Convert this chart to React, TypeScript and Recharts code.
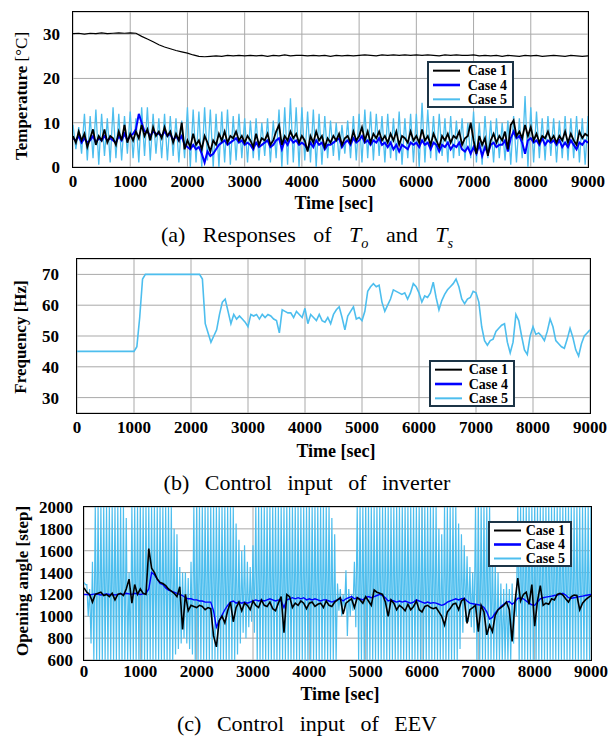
import { CartesianGrid, Line, LineChart, XAxis, YAxis } from "recharts";
import type { ReactNode } from "react";

// ---- axis ticks ----
const timeTicks = [0, 1000, 2000, 3000, 4000, 5000, 6000, 7000, 8000, 9000];
const tempTicks = [0, 10, 20, 30];
const freqTicks = [30, 40, 50, 60, 70];
const eevTicks = [600, 800, 1000, 1200, 1400, 1600, 1800, 2000];

const legendCases = [
  { name: "Case 1", color: "#000000", width: 2 },
  { name: "Case 4", color: "#0000ff", width: 2.6 },
  { name: "Case 5", color: "#4dbeee", width: 2 },
];

// ---- (a) temperatures ----
// outdoor temperature To, every 100 s
const toCase1 = [
  30.1, 30.2, 30.0, 30.2, 30.1, 30.3, 30.1, 30.2, 30.3, 30.2,
  30.3, 30.2, 29.5, 28.9, 28.3, 27.6, 27.1, 26.7, 26.3, 26.0,
  25.7, 25.3, 25.0, 24.9, 25.0, 25.1, 25.0, 25.2, 25.1, 25.2,
  25.1, 25.2, 25.1, 25.2, 25.0, 25.2, 25.1, 25.3, 25.1, 25.2,
  25.2, 25.1, 25.2, 25.1, 25.2, 25.0, 25.2, 25.1, 25.2, 25.1,
  25.2, 25.3, 25.2, 25.1, 25.3, 25.2, 25.3, 25.2, 25.3, 25.2,
  25.3, 25.2, 25.3, 25.2, 25.1, 25.3, 25.2, 25.3, 25.2, 25.2,
  25.3, 25.1, 25.2, 25.1, 25.2, 25.0, 25.2, 25.1, 25.0, 25.2,
  25.1, 25.2, 25.0, 25.1, 25.2, 25.1, 25.0, 25.2, 25.1, 25.0,
  25.1,
];

// supply temperature Ts, every 50 s
const tsCase1 = [
  7, 5.5, 8, 6, 7.5, 4.5, 6.5, 8.5, 5, 7,
  6, 8.5, 5.5, 7, 6.5, 5, 8, 6, 9.5, 5.5,
  7.5, 6, 8, 6.5, 9.5, 7, 8.5, 6, 9, 7,
  8, 6.5, 9, 7, 8, 5.5, 7.5, 6, 10, 4,
  6, 4.5, 7.5, 5, 6, 4, 7, 5.5, 3.5, 6,
  5, 7.5, 6, 8, 5.5, 7, 6.5, 8, 6, 7,
  5.5, 7, 6, 4.5, 7.5, 5, 6.5, 6, 7.5, 5,
  6, 8, 9.5, 5, 7, 6, 8, 6.5, 7.5, 5.5,
  7, 6, 3.5, 7, 5.5, 8, 6, 7, 4.5, 6.5,
  5.5, 7, 6, 7.5, 5, 6.5, 7, 5.5, 8, 6,
  7, 9, 6, 8, 5.5, 7.5, 6.5, 8, 6, 7,
  5.5, 7.5, 6, 8, 5, 7, 6.5, 5.5, 8, 6,
  7, 5.5, 8.5, 6, 7, 5, 7.5, 6, 4.5, 7,
  6, 7.5, 5.5, 7, 6.5, 8, 5, 6.5, 7, 10,
  6, 3, 7, 5, 6.5, 2.5, 6, 7.5, 5.5, 7,
  6, 8, 4, 9.5, 10.5, 7, 8, 6.5, 9.5, 7,
  9, 6, 7.5, 5.5, 7, 6.5, 8, 6, 7, 5.5,
  7, 6, 8, 5.5, 7.5, 6, 5, 8, 6.5, 7.5,
  7,
];

const tsCase4 = [
  6.5, 6, 7, 5.5, 6.5, 5.5, 6, 7, 5.5, 6.5,
  6, 7, 6, 6.5, 6, 5.5, 7, 6, 7.5, 6,
  7, 7.5, 8.5, 12, 10, 8, 8, 7, 8, 7.5,
  7.5, 7, 8, 7, 7.5, 6, 7, 6, 7, 5,
  4.5, 4, 5, 4, 4.5, 3, 1, 3.5, 2.5, 3,
  4, 5, 5.5, 6, 5, 5.5, 6, 6.5, 5.5, 6,
  5, 5.5, 5, 4, 5.5, 4.5, 5, 5.5, 6, 4.5,
  5, 6, 6.5, 4, 6, 5, 6.5, 5.5, 6, 5,
  5.5, 5, 4, 5.5, 4.5, 6, 5, 5.5, 4, 5,
  5, 5.5, 6, 6.5, 4.5, 5.5, 6, 5, 6.5, 5.5,
  6, 7, 5.5, 6, 5, 6, 5.5, 6.5, 5, 5.5,
  4.5, 5.5, 4, 5, 3.5, 5, 4.5, 4, 5.5, 5,
  5.5, 4.5, 6, 5, 5.5, 4, 5.5, 5, 3.5, 5,
  4.5, 5.5, 4, 5, 4.5, 5.5, 4, 3.5, 4.5, 3,
  4.5, 3, 5, 2.5, 4.5, 3, 5, 5.5, 4.5, 5,
  5, 6, 3.5, 6.5, 8, 6.5, 7, 5.5, 3, 6,
  6.5, 5.5, 6, 5, 6.5, 5, 6, 5.5, 6, 5,
  6, 4.5, 5.5, 4.5, 6, 5, 4, 5.5, 5, 6,
  5.5,
];

// Case 5 swings: peaks every 100 s, troughs 50 s later
const tsCase5Peaks = [
  9.5, 9, 12, 11.5, 13, 12, 11, 13.5, 12, 11.5,
  12.5, 11, 13.5, 13.5, 12, 11, 12, 11.5, 11, 10.5,
  13.5, 13, 12.5, 13.5, 13, 12, 12.5, 13, 11.5, 12,
  11, 10.5, 11, 10, 11, 10.5, 13, 13.5, 15.5, 13.5,
  13.5, 12.5, 13, 12, 11.5, 10.5, 10, 9.5, 10.5, 11.5,
  12, 13, 12.5, 12, 11.5, 12, 11, 12.5, 11, 12,
  12, 14.5, 13, 11.5, 12, 11, 11.5, 10.5, 11, 10,
  12.5, 10, 11.5, 10.5, 11, 10, 10.5, 11.5, 11, 16,
  13.5, 12.5, 11, 11.5, 11, 10.5, 11.5, 11, 11.5, 11,
  11.5,
];
const tsCase5Troughs = [
  4, 3, 1.5, 2, 0.5, 2.5, 1, 2, 1.5, 3,
  2, 1, 2.5, 1.5, 3, 2, 1.5, 2.5, 1, 2,
  0, 1, 0, 1.5, 0, 0, 1, 0.5, 1.5, 2,
  1, 2, 1.5, 2.5, 1, 2, 0, 0.5, 1, 0,
  1.5, 1, 0, 0.5, 2, 2.5, 1.5, 3, 2, 1.5,
  1, 2, 1.5, 2.5, 1, 2, 1.5, 0.5, 2, 1,
  0, 1, 2, 1.5, 2.5, 1, 2, 2.5, 1.5, 2,
  1, 0.5, 2, 1, 2, 1.5, 0.5, 1, 2, 0,
  1, 2, 1.5, 2.5, 1, 2, 1.5, 2, 1, 0.5,
];

// ---- (b) inverter frequency, every 50 s ----
const freqCase5 = [
  45, 45, 45, 45, 45, 45, 45, 45, 45, 45,
  45, 45, 45, 45, 45, 45, 45, 45, 45, 45,
  45, 46.5, 56, 68.5, 70, 70, 70, 70, 70, 70,
  70, 70, 70, 70, 70, 70, 70, 70, 70, 70,
  70, 70, 70, 70, 68.5, 54, 51, 48, 50, 52,
  57, 61, 62, 58, 54, 57, 55.5, 56.5, 55.5, 54.5,
  53, 57, 56.5, 57, 55.5, 57, 56, 57, 56.5, 55.5,
  55, 51, 58.5, 58, 57.5, 57.5, 56, 58, 57, 56,
  59, 54, 57, 56, 55, 57, 55, 54.5, 56, 54,
  57, 58.5, 59.5, 56, 52, 56.5, 58, 59.5, 55.5, 56,
  55, 58, 64.5, 66, 67, 66, 66.5, 61, 58, 60,
  62, 65, 64.5, 64, 63.5, 64, 62, 64, 67, 66,
  64, 61, 63, 62.5, 64, 67.5, 62.5, 58.5, 61.5, 63.5,
  65, 66, 67, 68.5, 66, 62, 60.5, 62, 62.5, 64.5,
  64, 61, 53, 48.5, 47, 48.5, 49, 51.5, 52.5, 53.5,
  54, 48, 44.5, 48, 57, 55, 50, 45.5, 44, 50,
  53, 50.5, 51, 50, 48.5, 51.5, 55.5, 53, 48.5, 47.5,
  46.5, 46, 49, 52.5, 49.5, 45.5, 43.5, 47.5, 50, 51,
  52,
];

// ---- (c) EEV opening, every 50 s ----
const eevCase1 = [
  1260, 1220, 1200, 1130, 1200, 1210, 1220, 1190, 1200, 1180,
  1210, 1150, 1200, 1210, 1190, 1250, 1340, 1120, 1290, 1200,
  1250, 1210, 1200, 1620, 1440, 1400, 1340, 1310, 1300, 1280,
  1250, 1230, 1210, 1180, 1270, 880, 1200, 1050, 1100, 1090,
  1080, 1100, 1090, 1060, 1080, 1070, 820, 720, 960, 1000,
  940, 1050, 1130, 950, 1080, 1130, 1050, 1120, 1100, 1060,
  1140, 1100, 1080, 1150, 1100, 1090, 1130, 1070, 1050, 1120,
  1180, 850, 1200, 1180, 1080, 1120, 1100, 1140, 1120, 1070,
  1120, 1130, 1090, 1110, 1120, 1080, 1140, 1100, 1090, 1130,
  1150, 1170, 1020, 1120, 1140, 1160, 1080, 1170, 1150, 1120,
  1180, 1140, 1100, 1240, 1220, 1210, 1200, 1130, 1000, 1150,
  1120, 1060, 1100, 1080, 1050, 1110, 1060, 1090, 1140, 1060,
  1040, 1090, 1100, 1080, 1070, 1080, 1040, 1000, 920, 1040,
  1070, 1110, 1120, 1060, 1140, 1160, 935, 1060, 1080, 1100,
  860, 1100, 1040, 830, 920, 860, 1010, 1060, 1080, 1100,
  1130, 1060, 770, 1130, 1350, 1140, 1200, 1220, 1110, 1290,
  910, 1140, 1280, 1100, 1120, 1110, 1160, 1150, 1200, 1210,
  1195, 1160, 1130, 1180, 1195, 1190, 1060, 1120, 1150, 1170,
  1190,
];

const eevCase4 = [
  1200, 1200, 1195, 1200, 1205, 1200, 1195, 1200, 1205, 1200,
  1200, 1195, 1200, 1205, 1200, 1210, 1205, 1200, 1210, 1205,
  1200, 1205, 1210, 1250, 1400, 1380, 1340, 1300, 1290, 1260,
  1240, 1230, 1220, 1210, 1200, 1190, 1170, 1160, 1160, 1150,
  1150, 1140, 1140, 1130, 1130, 1130, 1050, 900, 960, 1010,
  1060, 1100, 1130, 1140, 1120, 1130, 1120, 1130, 1120, 1130,
  1140, 1150, 1140, 1150, 1140, 1150, 1160, 1150, 1140, 1150,
  1140, 1080, 1150, 1160, 1170, 1160, 1170, 1160, 1170, 1150,
  1160, 1150, 1160, 1150, 1140, 1150, 1150, 1140, 1130, 1140,
  1150, 1160, 1140, 1160, 1170, 1180, 1160, 1170, 1160, 1150,
  1170, 1180, 1170, 1180, 1190, 1200, 1190, 1170, 1140, 1150,
  1140, 1130, 1140, 1130, 1140, 1130, 1120, 1130, 1150, 1140,
  1130, 1120, 1130, 1120, 1125, 1120, 1110, 1100, 1110, 1130,
  1140, 1150, 1160, 1150, 1160, 1165, 1140, 1120, 1115, 1110,
  1105, 1100, 1080, 1040, 975, 990, 1030, 1060, 1090, 1110,
  1130, 1135, 1110, 1130, 1165, 1165, 1160, 1140, 1120, 1105,
  1100, 1130, 1160, 1170, 1175, 1180, 1185, 1190, 1195, 1200,
  1210, 1195, 1170, 1165, 1170, 1175, 1180, 1185, 1190, 1195,
  1200,
];

// Case 5 chatters: peak every 50 s, trough 25 s later
const eevCase5Peaks = [
  1310, 1290, 1250, 1500, 2000, 2000, 2000, 2000, 2000, 2000,
  2000, 2000, 2000, 2000, 2000, 1900, 1400, 2000, 2000, 2000,
  2000, 2000, 2000, 2000, 2000, 2000, 2000, 2000, 2000, 2000,
  2000, 2000, 1800, 1750, 1450, 1400, 1400, 1350, 1500, 2000,
  2000, 2000, 2000, 2000, 2000, 2000, 2000, 2000, 2000, 2000,
  2000, 2000, 2000, 2000, 1850, 1700, 1600, 1650, 1500, 1450,
  1650, 2000, 2000, 2000, 2000, 2000, 2000, 2000, 2000, 2000,
  2000, 2000, 2000, 2000, 2000, 2000, 2000, 2000, 2000, 2000,
  2000, 2000, 2000, 2000, 2000, 2000, 2000, 2000, 1900, 1750,
  1300, 1250, 1200, 1420, 1250, 1200, 1500, 2000, 2000, 2000,
  2000, 2000, 2000, 2000, 2000, 2000, 2000, 2000, 2000, 2000,
  2000, 2000, 2000, 2000, 2000, 2000, 2000, 2000, 2000, 2000,
  2000, 2000, 2000, 2000, 2000, 2000, 1800, 1750, 2000, 2000,
  2000, 2000, 2000, 1850, 1750, 1650, 1550, 1450, 1400, 2000,
  2000, 2000, 2000, 2000, 2000, 1650, 1500, 1400, 1300, 1250,
  1300, 1250, 1300, 1150, 2000, 2000, 2000, 2000, 2000, 2000,
  2000, 2000, 2000, 2000, 2000, 2000, 2000, 2000, 2000, 2000,
  2000, 2000, 2000, 2000, 2000, 2000, 2000, 2000, 2000, 2000,
  2000,
];
const eevCase5Troughs = [
  1290, 1000, 750, 600, 600, 600, 600, 600, 600, 600,
  600, 600, 600, 600, 600, 600, 600, 600, 600, 600,
  600, 600, 600, 600, 600, 600, 600, 600, 600, 600,
  600, 600, 650, 700, 750, 800, 750, 700, 650, 600,
  600, 600, 600, 600, 600, 600, 600, 600, 600, 600,
  600, 600, 600, 600, 650, 750, 850, 800, 900, 950,
  850, 600, 600, 600, 600, 600, 600, 600, 600, 600,
  600, 600, 600, 600, 600, 600, 600, 600, 600, 600,
  600, 600, 600, 600, 600, 600, 600, 600, 600, 600,
  1050, 1000, 1050, 820, 1000, 1050, 900, 600, 600, 600,
  600, 600, 600, 600, 600, 600, 600, 600, 600, 600,
  600, 600, 600, 600, 600, 600, 600, 600, 600, 600,
  600, 600, 600, 600, 600, 600, 600, 600, 600, 600,
  600, 600, 600, 700, 850, 950, 950, 900, 850, 600,
  600, 600, 600, 600, 600, 600, 600, 600, 600, 600,
  600, 600, 750, 1000, 600, 600, 600, 600, 600, 600,
  600, 600, 600, 600, 600, 600, 600, 600, 600, 600,
  600, 600, 600, 600, 600, 600, 600, 600, 600, 600,
];

const series = (values: number[], step: number) => values.map((v, i) => ({ t: i * step, v }));
const swing = (peaks: number[], troughs: number[], step: number) =>
  peaks.flatMap((p, i) =>
    i < troughs.length
      ? [{ t: i * step, v: p }, { t: i * step + step / 2, v: troughs[i] }]
      : [{ t: i * step, v: p }]
  );

const FONT = "'Times New Roman', 'Liberation Serif', 'DejaVu Serif', serif";
const BLACK = "#000000";
const BLUE = "#0000ff";
const CYAN = "#4dbeee";

function Text({ x, y, size = 17, bold = true, rotate = false, children }: {
  x: number; y: number; size?: number; bold?: boolean; rotate?: boolean; children: ReactNode;
}) {
  return (
    <div
      style={{
        position: "absolute",
        left: x,
        top: y,
        transform: `translate(-50%, -50%)${rotate ? " rotate(-90deg)" : ""}`,
        fontFamily: FONT,
        fontSize: size,
        fontWeight: bold ? 700 : 400,
        whiteSpace: "nowrap",
        lineHeight: 1,
        color: "#000",
      }}
    >
      {children}
    </div>
  );
}

function LegendBox({ left, top, width, height }: { left: number; top: number; width: number; height: number }) {
  const row = (height - 4) / 3;
  return (
    <svg style={{ position: "absolute", left, top }} width={width} height={height}>
      <rect x={1} y={1} width={width - 2} height={height - 2} fill="#fff" stroke="#1c3446" strokeWidth={2} />
      {legendCases.map((c, i) => {
        const y = 2 + row * (i + 0.5) + 0.5;
        return (
          <g key={c.name}>
            <line x1={6} x2={33} y1={y} y2={y} stroke={c.color} strokeWidth={c.width} />
            <text x={width - 7} y={y + 4.5} textAnchor="end" style={{ fontFamily: FONT, fontWeight: 700, fontSize: 14 }}>
              {c.name}
            </text>
          </g>
        );
      })}
    </svg>
  );
}

interface PanelProps {
  top: number;
  height: number;
  plotLeft: number;
  plotRight: number;
  plotTop: number;
  plotBottom: number;
  yDomain: [number, number];
  yTicks: number[];
  xTickGap: number;
  yTickGap: number;
  children: ReactNode;
}

function Panel({ top, height, plotLeft, plotRight, plotTop, plotBottom, yDomain, yTicks, xTickGap, yTickGap, children }: PanelProps) {
  const tick = { fontFamily: FONT, fontSize: 17, fontWeight: 700, fill: "#000", style: { fontFamily: FONT } };
  return (
    <>
      <div style={{ position: "absolute", left: 0, top }}>
        <LineChart
          width={615}
          height={height}
          margin={{ top: plotTop - top, right: 615 - plotRight, bottom: 0, left: 0 }}
          style={{ fontFamily: FONT }}
        >
          <CartesianGrid stroke="#a9a9a9" strokeWidth={1} />
          <XAxis
            dataKey="t"
            type="number"
            domain={[0, 9000]}
            ticks={timeTicks}
            interval={0}
            allowDataOverflow
            height={top + height - plotBottom}
            axisLine={false}
            tickLine={false}
            tickSize={0}
            tickMargin={xTickGap}
            tick={tick}
          />
          <YAxis
            type="number"
            domain={yDomain}
            ticks={yTicks}
            interval={0}
            allowDataOverflow
            width={plotLeft}
            axisLine={false}
            tickLine={false}
            tickSize={0}
            tickMargin={yTickGap}
            tick={tick}
          />
          {children}
        </LineChart>
      </div>
      <div
        style={{
          position: "absolute",
          left: plotLeft - 0.75,
          top: plotTop - 0.75,
          width: plotRight - plotLeft + 1.5,
          height: plotBottom - plotTop + 1.5,
          border: "1.5px solid #000",
          boxSizing: "border-box",
          pointerEvents: "none",
        }}
      />
    </>
  );
}

const sub = { fontSize: "0.65em", fontStyle: "italic" } as const;

export default function App() {
  return (
    <div style={{ position: "absolute", left: 0, top: 0, width: 615, height: 745, background: "#fff", overflow: "hidden", fontFamily: FONT }}>
      {/* (a) */}
      <Panel top={0} height={200} plotLeft={73} plotRight={588} plotTop={12} plotBottom={167}
        yDomain={[0, 35]} yTicks={tempTicks} xTickGap={8} yTickGap={13}>
        <Line data={swing(tsCase5Peaks, tsCase5Troughs, 100)} dataKey="v" stroke={CYAN} strokeWidth={1.3} dot={false} isAnimationActive={false} />
        <Line data={series(tsCase4, 50)} dataKey="v" stroke={BLUE} strokeWidth={2} dot={false} isAnimationActive={false} />
        <Line data={series(tsCase1, 50)} dataKey="v" stroke={BLACK} strokeWidth={1.8} dot={false} isAnimationActive={false} />
        <Line data={series(toCase1, 100)} dataKey="v" stroke={BLACK} strokeWidth={1.2} dot={false} isAnimationActive={false} />
      </Panel>
      <LegendBox left={427} top={61} width={87} height={47} />
      <Text x={21} y={96} rotate>
        Temperature <span style={{ fontWeight: 400 }}>[°C]</span>
      </Text>
      <Text x={334} y={203} size={18}>Time [sec]</Text>
      <Text x={307} y={237} size={22} bold={false}>
        <span style={{ wordSpacing: 12 }}>
          (a) Responses of <i>T</i><sub style={sub}>o</sub> and <i>T</i><sub style={sub}>s</sub>
        </span>
      </Text>

      {/* (b) */}
      <Panel top={245} height={200} plotLeft={77} plotRight={590} plotTop={259} plotBottom={413}
        yDomain={[25, 75]} yTicks={freqTicks} xTickGap={8} yTickGap={18}>
        <Line data={series(freqCase5, 50)} dataKey="v" stroke={CYAN} strokeWidth={1.6} dot={false} isAnimationActive={false} />
      </Panel>
      <LegendBox left={429} top={360} width={86} height={47} />
      <Text x={20} y={337} rotate>Frequency [Hz]</Text>
      <Text x={336} y={451} size={18}>Time [sec]</Text>
      <Text x={307} y={483} size={22} bold={false}>
        <span style={{ wordSpacing: 10 }}>(b) Control input of inverter</span>
      </Text>

      {/* (c) */}
      <Panel top={495} height={195} plotLeft={84} plotRight={591} plotTop={507} plotBottom={660}
        yDomain={[600, 2000]} yTicks={eevTicks} xTickGap={5} yTickGap={11}>
        <Line data={swing(eevCase5Peaks, eevCase5Troughs, 50)} dataKey="v" stroke={CYAN} strokeWidth={1.2} dot={false} isAnimationActive={false} />
        <Line data={series(eevCase4, 50)} dataKey="v" stroke={BLUE} strokeWidth={1.4} dot={false} isAnimationActive={false} />
        <Line data={series(eevCase1, 50)} dataKey="v" stroke={BLACK} strokeWidth={1.6} dot={false} isAnimationActive={false} />
      </Panel>
      <LegendBox left={488} top={521} width={84} height={46} />
      <Text x={22} y={581} rotate>Opening angle [step]</Text>
      <Text x={340} y={694} size={18}>Time [sec]</Text>
      <Text x={307} y={724} size={22} bold={false}>
        <span style={{ wordSpacing: 10 }}>(c) Control input of EEV</span>
      </Text>
    </div>
  );
}
